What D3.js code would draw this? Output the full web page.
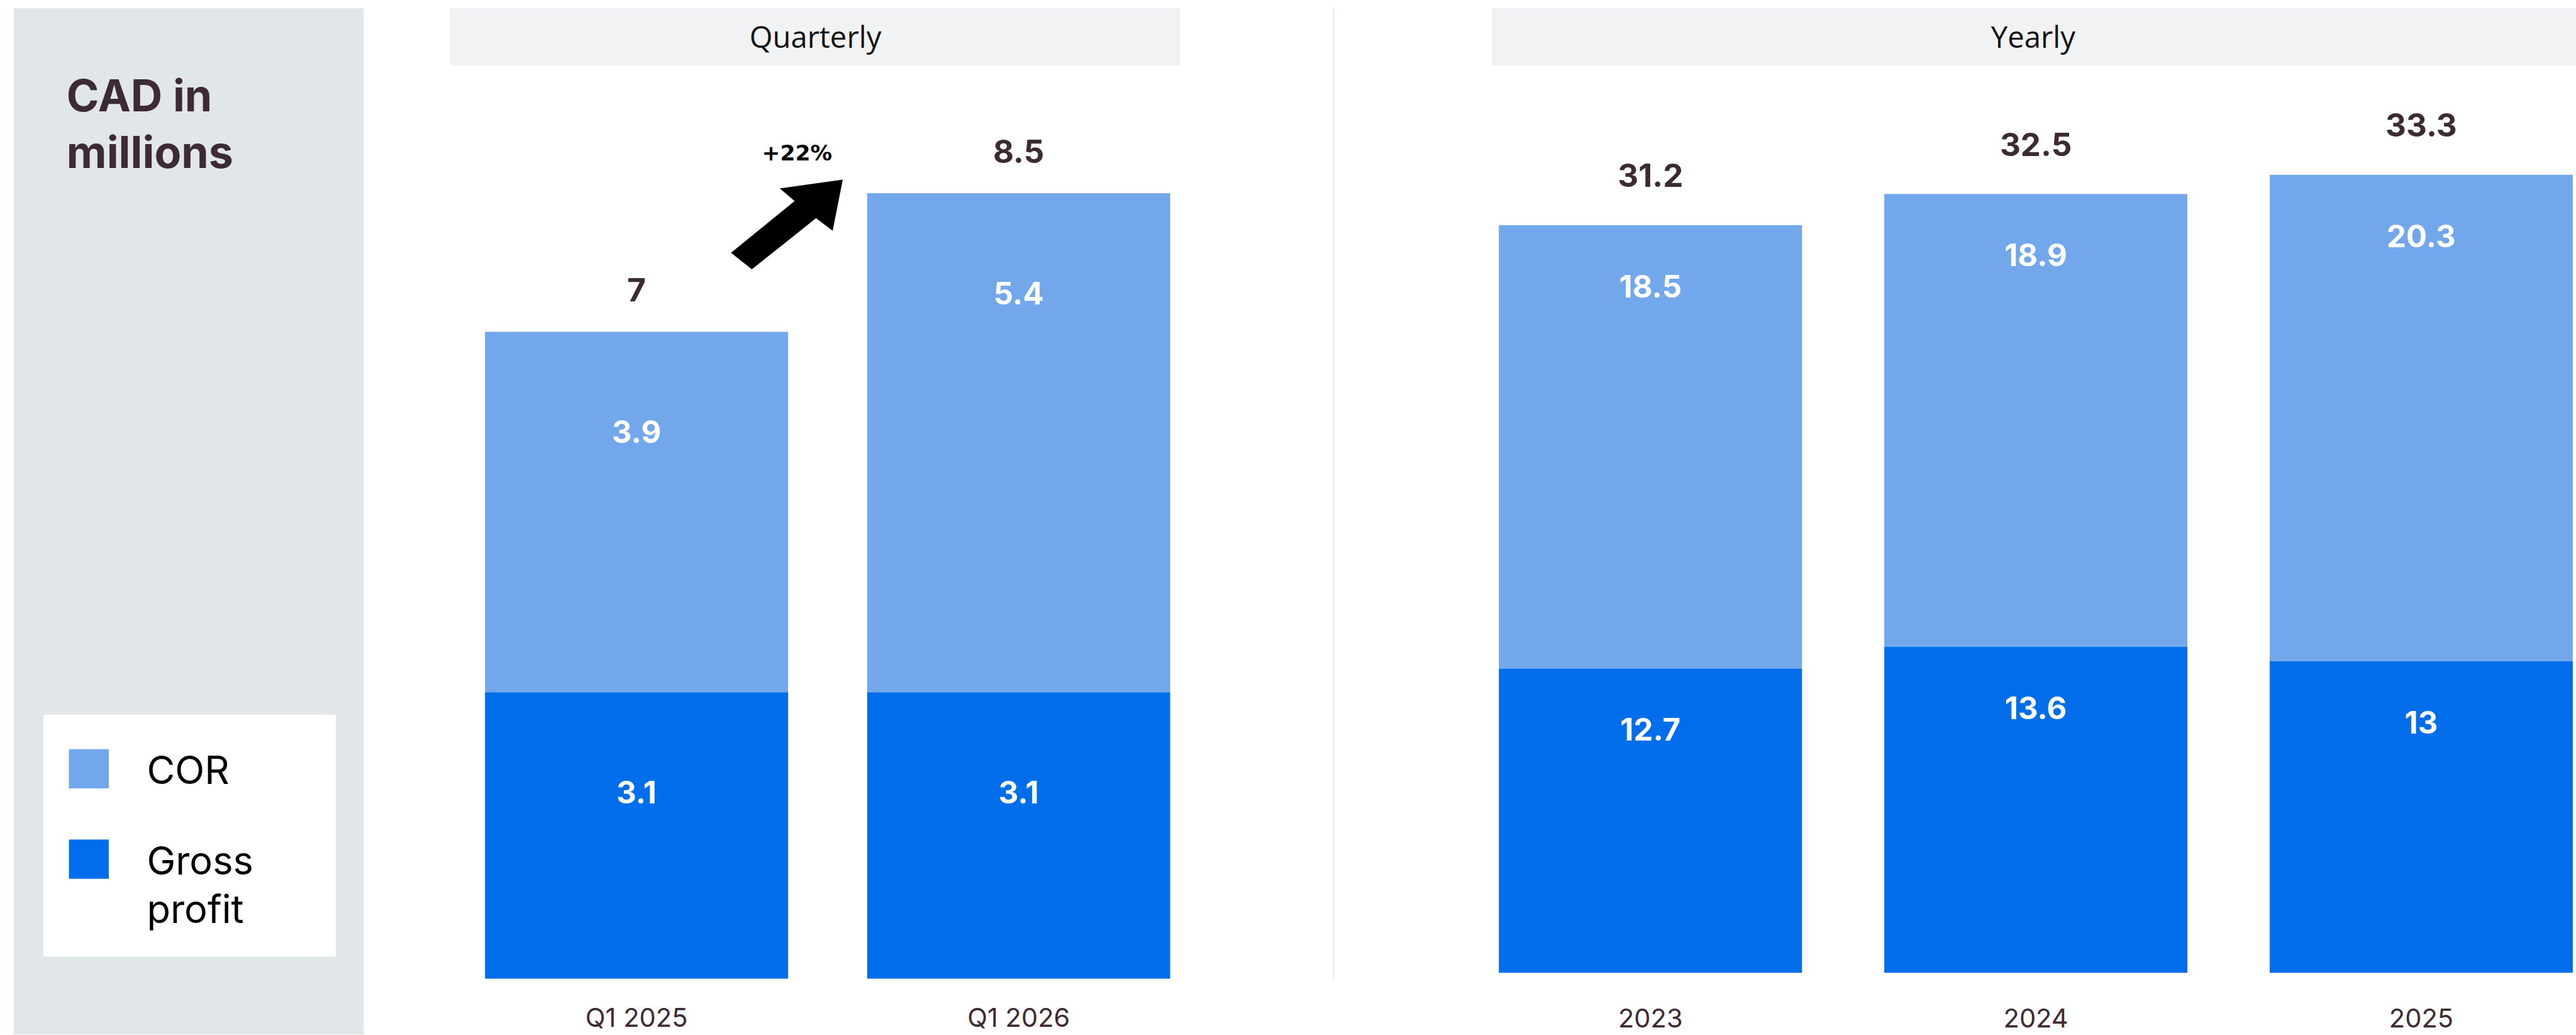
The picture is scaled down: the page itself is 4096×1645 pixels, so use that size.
<!DOCTYPE html>
<html>
<head>
<meta charset="utf-8">
<script src="https://cdn.jsdelivr.net/npm/d3@7"></script>
<style>
  html, body { margin: 0; padding: 0; background: #fff; }
  svg { display: block; }
</style>
</head>
<body>
<div id="container"></div>
<script>
const width = 4096;
const height = 1645;
const k = 0.945; // reference is 4332 wide

// data
const quarters = ['Q1 2025', 'Q1 2026'];
const quarterCOR = [3.9, 5.4];
const quarterGross = [3.1, 3.1];
const quarterTotal = [7, 8.5];

const years = ['2023', '2024', '2025'];
const yearCOR = [18.5, 18.9, 20.3];
const yearGross = [12.7, 13.6, 13];
const yearTotal = [31.2, 32.5, 33.3];

const seriesNames = ['COR', 'Gross profit'];
const panelTitles = ['Quarterly', 'Yearly'];
const growthLabel = '+22%';

const colCOR = '#72a7eb';
const colGross = '#006dea';
const dark = '#3c2a35';
const font = 'Inter, "Noto Sans", sans-serif';

const svg = d3.select('#container')
    .append('svg')
    .attr('width', width)
    .attr('height', height)
    .attr('viewBox', '0 0 ' + width + ' ' + height);

const root = svg.append('g').attr('transform', 'scale(' + k + ')');

// left grey panel with title + legend
root.append('rect')
    .attr('x', 23).attr('y', 14)
    .attr('width', 589).attr('height', 1726)
    .attr('fill', '#e1e6e9');

const title = root.append('text')
    .attr('x', 112).attr('y', 187)
    .attr('font-family', font)
    .attr('font-weight', 700)
    .attr('font-size', 74)
    .attr('fill', dark);
title.append('tspan').attr('x', 112).text('CAD in');
title.append('tspan').attr('x', 112).attr('dy', 96).text('millions');

const legend = root.append('g').attr('id', 'legend');
legend.append('rect')
    .attr('x', 73).attr('y', 1202)
    .attr('width', 492).attr('height', 407)
    .attr('fill', '#fff');

const legendY = d3.scalePoint().domain(seriesNames).range([1260, 1412]);
const legendColor = d3.scaleOrdinal().domain(seriesNames).range([colCOR, colGross]);
seriesNames.forEach(name => {
    legend.append('rect')
        .attr('x', 116).attr('y', legendY(name))
        .attr('width', 67).attr('height', 66)
        .attr('fill', legendColor(name));
    const t = legend.append('text')
        .attr('x', 247).attr('y', legendY(name) + 59)
        .attr('font-family', font)
        .attr('font-size', 65)
        .attr('fill', '#000');
    name.split(' ').forEach((w, i) => {
        t.append('tspan').attr('x', 247).attr('dy', i ? 81 : 0).text(w);
    });
});

// panel headers + divider
function header(x0, x1, label, cx) {
    root.append('rect')
        .attr('x', x0).attr('y', 14)
        .attr('width', x1 - x0).attr('height', 96)
        .attr('fill', '#f1f2f4');
    root.append('text')
        .attr('x', cx).attr('y', 80)
        .attr('text-anchor', 'middle')
        .attr('font-family', '"Open Sans", sans-serif')
        .attr('font-size', 50)
        .attr('fill', '#111')
        .text(label);
}
header(757, 1986, panelTitles[0], 1372);
header(2510, 4340, panelTitles[1], 3421);

root.append('line')
    .attr('x1', 2244).attr('x2', 2244)
    .attr('y1', 14).attr('y2', 1646)
    .attr('stroke', '#e6e7e9')
    .attr('stroke-width', 2.3);

function drawPanel(cats, gross, cor, totals, x, y, opt) {
    const rows = cats.map((c, i) => ({cat: c, gross: gross[i], cor: cor[i], total: totals[i]}));
    const stacked = d3.stack().keys(['gross', 'cor'])(rows);
    const color = {gross: colGross, cor: colCOR};
    const g = root.append('g');

    stacked.forEach(layer => {
        g.selectAll(null)
            .data(layer)
            .enter()
            .append('rect')
            .attr('x', d => x(d.data.cat))
            .attr('y', d => y(d[1]))
            .attr('width', x.bandwidth())
            .attr('height', d => y(d[0]) - y(d[1]))
            .attr('fill', color[layer.key]);

        g.selectAll(null)
            .data(layer)
            .enter()
            .append('text')
            .attr('x', d => x(d.data.cat) + x.bandwidth() / 2)
            .attr('y', d => y(d[1]) + opt.segOffset)
            .attr('dy', '0.36em')
            .attr('text-anchor', 'middle')
            .attr('font-family', font)
            .attr('font-weight', 700)
            .attr('font-size', 52)
            .attr('fill', '#fff')
            .text(d => d.data[layer.key]);
    });

    g.selectAll(null)
        .data(rows)
        .enter()
        .append('text')
        .attr('x', d => x(d.cat) + x.bandwidth() / 2)
        .attr('y', d => y(d.total) - opt.totalGap)
        .attr('text-anchor', 'middle')
        .attr('font-family', font)
        .attr('font-weight', 700)
        .attr('font-size', 54)
        .attr('fill', dark)
        .text(d => d.total);

    const axis = g.append('g')
        .attr('transform', 'translate(0,' + y(0) + ')')
        .call(d3.axisBottom(x).tickSize(0).tickPadding(opt.tickPad));
    axis.select('.domain').remove();
    axis.selectAll('text')
        .attr('font-family', font)
        .attr('font-size', 44)
        .attr('fill', dark);
    return g;
}

const xQ = d3.scaleBand().domain(quarters).range([683, 2102]).padding(0.207);
const yQ = d3.scaleLinear().domain([0, d3.max(quarterTotal)]).range([1646, 325]);
drawPanel(quarters, quarterGross, quarterCOR, quarterTotal, xQ, yQ, {segOffset: 168, totalGap: 51, tickPad: 50});

const xY = d3.scaleBand().domain(years).range([2383.5, 4467.5]).padding(0.2136);
const yY = d3.scaleLinear().domain([0, d3.max(yearTotal)]).range([1636, 294]);
drawPanel(years, yearGross, yearCOR, yearTotal, xY, yY, {segOffset: 103, totalGap: 64, tickPad: 61});

// growth arrow between the quarterly bars
const tipX = xQ(quarters[1]) - 41;
const tipY = yQ(quarterTotal[1]) - 23;
const arrowPts = [[0, 0], [-106, 15], [-81, 36], [-188, 123], [-153, 151], [-45, 65], [-17, 86]];
root.append('path')
    .attr('d', d3.line()(arrowPts.map(p => [tipX + p[0], tipY + p[1]])) + 'Z')
    .attr('fill', '#000');
root.append('text')
    .attr('x', tipX - 77).attr('y', tipY - 32)
    .attr('text-anchor', 'middle')
    .attr('font-family', '"DejaVu Sans", sans-serif')
    .attr('font-weight', 700)
    .attr('font-size', 35)
    .attr('textLength', 118)
    .attr('lengthAdjust', 'spacingAndGlyphs')
    .attr('fill', '#000')
    .text(growthLabel);
</script>
</body>
</html>
